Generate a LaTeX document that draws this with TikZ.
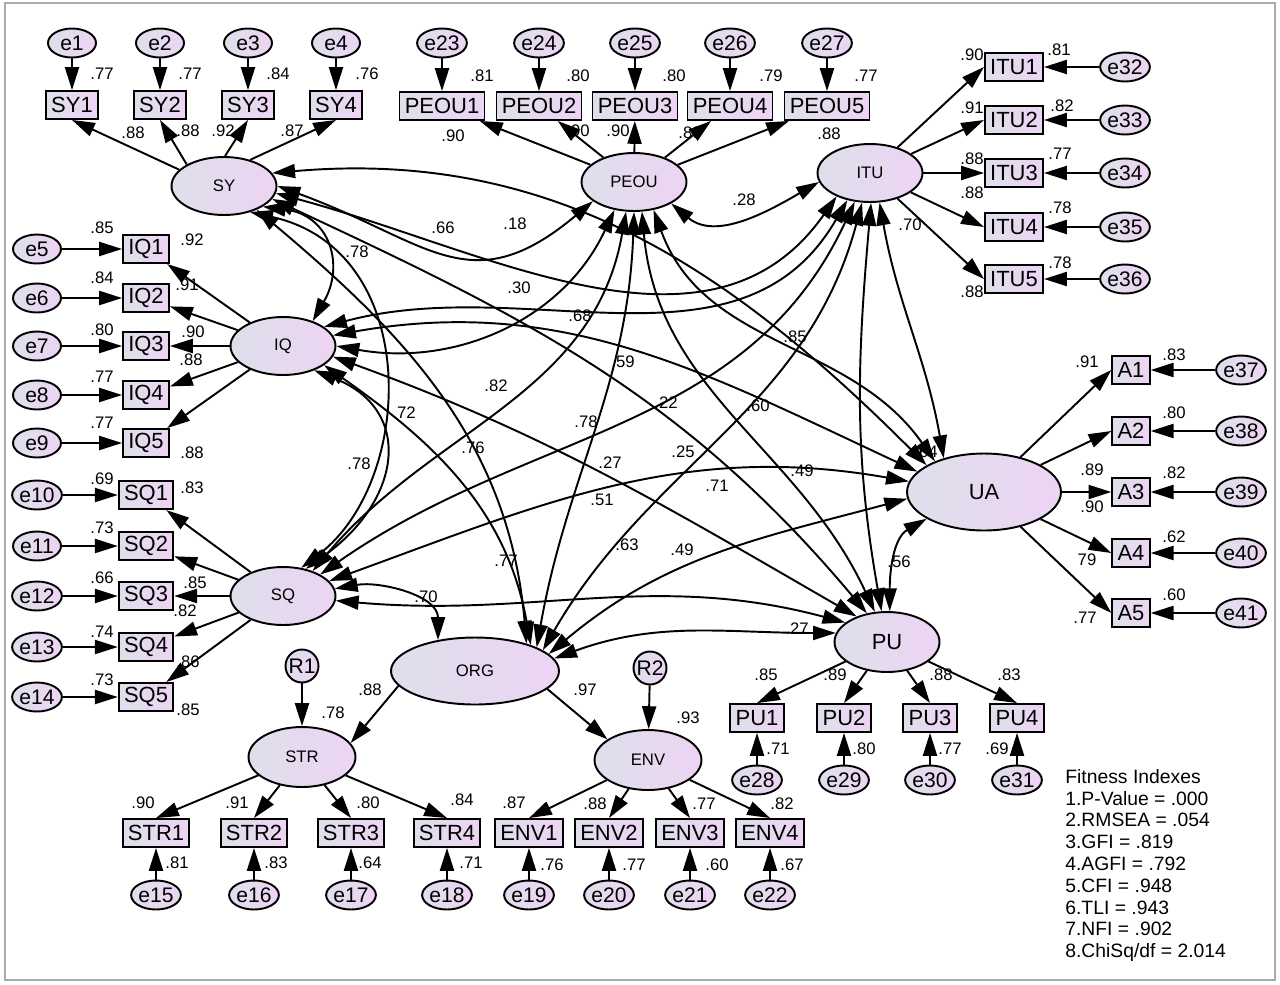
\documentclass[tikz,border=0pt]{standalone}
\usepackage{fontspec}
\setmainfont{Liberation Sans}
\usetikzlibrary{shapes.geometric,arrows.meta,positioning}
\definecolor{shadeL}{HTML}{DEDFEB}
\definecolor{shadeR}{HTML}{EDD4F3}
\definecolor{frameg}{HTML}{ABABAB}

\begin{document}
\begin{tikzpicture}[x=0.02cm,y=-0.02cm,
lat/.style={ellipse,draw,line width=1.1pt,left color=shadeL,right color=shadeR,inner sep=0pt,
minimum width=2.1cm,minimum height=1.16cm,font=\fontsize{9.5}{10}\selectfont},
obs/.style={rectangle,draw,line width=1.1pt,left color=shadeL,right color=shadeR,inner xsep=3pt,
inner ysep=0pt,minimum height=0.56cm,font=\fontsize{12.5}{12}\selectfont},
err/.style={ellipse,draw,line width=1.1pt,left color=shadeL,right color=shadeR,inner sep=0pt,
minimum width=0.96cm,minimum height=0.58cm,font=\fontsize{12}{12}\selectfont},
res/.style={circle,draw,line width=1.1pt,left color=shadeL,right color=shadeR,inner sep=0pt,
minimum size=0.66cm,font=\fontsize{12}{12}\selectfont},
ld/.style={-{Triangle[length=13pt,width=8pt]},line width=1.1pt},
cv/.style={{Triangle[length=13pt,width=8pt]}-{Triangle[length=13pt,width=8pt]},line width=1.1pt},
lbl/.style={inner sep=0pt,font=\fontsize{9.5}{10}\selectfont},
fitblk/.style={anchor=north west,align=left,inner sep=0pt,font=\fontsize{11}{12.4}\selectfont}]
\useasboundingbox (0,0) rectangle (1280,984);
\draw[frameg,line width=1.2pt] (5,3) rectangle (1275,980);

\node[lat] (SY) at (224,186) {SY};
\node[lat] (IQ) at (283,346) {IQ};
\node[lat] (SQ) at (283,596) {SQ};
\node[lat] (PEOU) at (634,182) {PEOU};
\node[lat] (ITU) at (870,173) {ITU};
\node[lat,minimum width=3.08cm,minimum height=1.54cm,font=\fontsize{12.5}{13}\selectfont] (UA) at (984,492) {UA};
\node[lat,minimum height=1.2cm,font=\fontsize{12.5}{13}\selectfont] (PU) at (887,642) {PU};
\node[lat,minimum width=3.36cm,minimum height=1.34cm] (ORG) at (475,671) {ORG};
\node[lat,minimum width=2.14cm,minimum height=1.2cm] (STR) at (302,757) {STR};
\node[lat,minimum width=2.14cm,minimum height=1.2cm] (ENV) at (648,760) {ENV};
\node[res] (R1) at (302,666) {R1};
\node[res] (R2) at (650,668) {R2};

\foreach \i/\x/\a in {1/72/160,2/160/150,3/248/88,4/336/45}{
\node[obs] (SY\i) at (\x,105) {SY\i};
\node[err] (e\i) at (\x,43) {e\i};
\draw[ld] (e\i) -- (SY\i);
\draw[ld] (SY.\a) -- (SY\i.south);
}
\foreach \i/\e/\x in {1/23/442,2/24/539,3/25/635,4/26/730,5/27/827}{
\node[obs] (PEOU\i) at (\x,106) {PEOU\i};
\node[err] (e\e) at (\x,43) {e\e};
\draw[ld] (e\e) -- (PEOU\i);
\draw[ld] (PEOU) -- (PEOU\i);
}
\foreach \i/\e/\y in {1/32/67,2/33/120,3/34/173,4/35/227,5/36/279}{
\node[obs] (ITU\i) at (1014,\y) {ITU\i};
\node[err] (e\e) at (1125,\y) {e\e};
\draw[ld] (e\e) -- (ITU\i);
\draw[ld] (ITU) -- (ITU\i.west);
}
\foreach \i/\e/\y in {1/5/249,2/6/298,3/7/346,4/8/395,5/9/443}{
\node[obs] (IQ\i) at (146,\y) {IQ\i};
\node[err] (e\e) at (37,\y) {e\e};
\draw[ld] (e\e) -- (IQ\i);
\draw[ld] (IQ) -- (IQ\i);
}
\foreach \i/\e/\y in {1/10/495,2/11/546,3/12/596,4/13/647,5/14/697}{
\node[obs] (SQ\i) at (146,\y) {SQ\i};
\node[err] (e\e) at (37,\y) {e\e};
\draw[ld] (e\e) -- (SQ\i);
\draw[ld] (SQ) -- (SQ\i);
}
\foreach \i/\e/\x in {1/15/156,2/16/254,3/17/351,4/18/447}{
\node[obs] (STR\i) at (\x,833) {STR\i};
\node[err] (e\e) at (\x,895) {e\e};
\draw[ld] (e\e) -- (STR\i);
\draw[ld] (STR) -- (STR\i.north);
}
\foreach \i/\e/\x in {1/19/529,2/20/609,3/21/690,4/22/770}{
\node[obs] (ENV\i) at (\x,833) {ENV\i};
\node[err] (e\e) at (\x,895) {e\e};
\draw[ld] (e\e) -- (ENV\i);
\draw[ld] (ENV) -- (ENV\i.north);
}
\foreach \i/\e/\x in {1/28/757,2/29/844,3/30/930,4/31/1017}{
\node[obs] (PU\i) at (\x,718) {PU\i};
\node[err] (e\e) at (\x,780) {e\e};
\draw[ld] (e\e) -- (PU\i);
\draw[ld] (PU) -- (PU\i.north);
}
\foreach \i/\e/\y in {1/37/370,2/38/431,3/39/492,4/40/553,5/41/613}{
\node[obs] (A\i) at (1131,\y) {A\i};
\node[err] (e\e) at (1241,\y) {e\e};
\draw[ld] (e\e) -- (A\i);
\draw[ld] (UA) -- (A\i.west);
}
\draw[ld] (ORG.191) -- (STR.16);
\draw[ld] (ORG.-14) -- (ENV.153);
\draw[ld] (R1) -- (STR);
\draw[ld] (R2) -- (ENV);

\draw[cv] (SY.15) to[out=5,in=135] (UA.155);
\draw[cv] (SY.0) to[out=-20,in=-140,looseness=1.3] (PEOU.-155);
\draw[cv] (SY.-8) to[out=-15,in=-125] (ITU.-145);
\draw[cv] (SY.-15) to[out=-25,in=130] (PU.125);
\draw[cv] (SY.-28) .. controls (330,215) and (345,265) .. (IQ.40);
\draw[cv] (SY.-36) to[out=-40,in=95] (ORG.28);
\draw[cv] (SY.-45) .. controls (422,250) and (416,480) .. (SQ.57);
\draw[cv] (IQ.25) to[out=15,in=-120] (ITU.-130);
\draw[cv] (IQ.12) to[out=10,in=155] (UA.163);
\draw[cv] (IQ.0) to[out=-10,in=-115] (PEOU.-125);
\draw[cv] (IQ.-12) to[out=-20,in=150] (PU.140);
\draw[cv] (IQ.-25) to[out=-35,in=100] (ORG.25);
\draw[cv] (IQ.-38) .. controls (414,410) and (402,500) .. (SQ.50);
\draw[cv] (SQ.40) to[out=50,in=-100] (PEOU.-105);
\draw[cv] (SQ.30) to[out=35,in=-115] (ITU.-118);
\draw[cv] (SQ.18) to[out=20,in=170] (UA.172);
\draw[cv] (SQ.-5) to[out=-5,in=165] (PU.155);
\draw[cv] (SQ.8) to[out=10,in=90] (ORG.140);
\draw[cv] (ORG.21) to[out=80,in=-92] (PEOU.-90);
\draw[cv] (ORG.17) to[out=60,in=-105] (ITU.-105);
\draw[cv] (ORG.13) to[out=40,in=195] (UA.185);
\draw[cv] (ORG.9) to[out=20,in=180] (PU.170);
\draw[cv] (PEOU.-30) to[out=-40,in=-150] (ITU.-170);
\draw[cv] (PEOU.-75) to[out=-85,in=115] (PU.112);
\draw[cv] (PEOU.-55) to[out=-70,in=125] (UA.148);
\draw[cv] (ITU.-88) to[out=-95,in=100] (PU.100);
\draw[cv] (ITU.-72) to[out=-80,in=100] (UA.140);
\draw[cv] (PU.85) to[out=90,in=-150] (UA.205);

\foreach \x/\y/\lab [count=\n] in {102/74/.77,190/74/.77,278/74/.84,367/74/.76,133/133/.88,188/131/.88,
223/131/.92,292/131/.87,482/76/.81,578/76/.80,674/76/.80,771/76/.79,866/76/.77,453/136/.90,578/131/.90,
618/131/.90,690/133/.89,829/134/.88,972/55/.90,1059/50/.81,972/108/.91,1062/106/.82,972/159/.88,
1060/154/.77,972/193/.88,1060/208/.78,972/292/.88,1060/263/.78,910/225/.70,102/228/.85,192/240/.92,
102/278/.84,187/285/.91,102/330/.80,193/332/.90,191/360/.88,102/377/.77,102/423/.77,192/453/.88,
102/479/.69,192/488/.83,102/528/.73,102/578/.66,195/583/.85,185/611/.82,102/632/.74,188/662/.86,
102/680/.73,188/710/.85,370/690/.88,333/713/.78,143/803/.90,237/803/.91,368/803/.80,462/800/.84,
177/863/.81,276/863/.83,370/863/.64,471/863/.71,585/690/.97,688/718/.93,514/803/.87,595/804/.88,
704/804/.77,782/804/.82,552/865/.76,634/865/.77,717/865/.60,792/865/.67,766/675/.85,835/675/.89,
941/675/.88,1009/675/.83,778/749/.71,864/749/.80,950/749/.77,997/749/.69,926/452/.64,1087/362/.91,
1174/355/.83,1174/413/.80,1092/470/.89,1174/473/.82,1092/507/.90,1174/537/.62,1087/560/79,
1174/595/.60,1085/618/.77,899/562/.56,443/228/.66,515/224/.18,357/252/.78,519/288/.30,580/316/.68,
496/386/.82,623/362/.59,666/403/.22,758/406/.60,795/337/.85,744/200/.28,404/413/.72,359/464/.78,
473/448/.76,586/422/.78,506/561/.77,426/597/.70,610/463/.27,683/452/.25,602/500/.51,717/486/.71,
802/471/.49,627/545/.63,682/550/.49,797/629/.27}
\node[lbl] (v\n) at (\x,\y) {\lab};

\node[fitblk] (fit) at (1065,769) {Fitness Indexes\\1.P-Value = .000\\2.RMSEA = .054\\3.GFI = .819\\
4.AGFI = .792\\5.CFI = .948\\6.TLI = .943\\7.NFI = .902\\8.ChiSq/df = 2.014};
\end{tikzpicture}
\end{document}
